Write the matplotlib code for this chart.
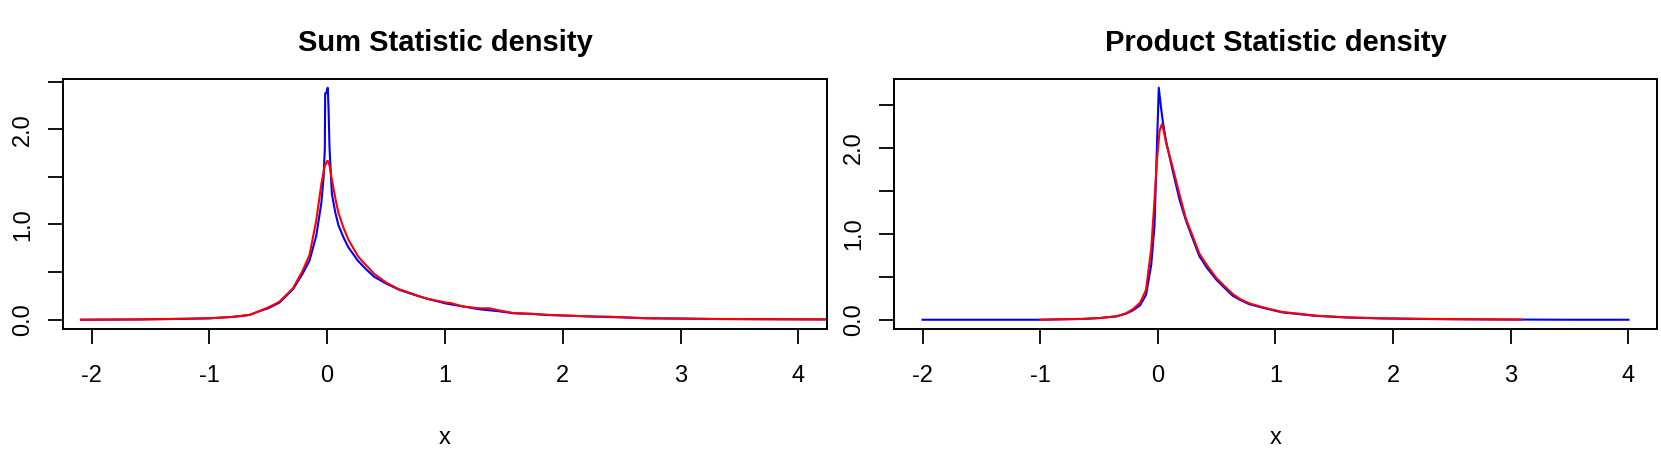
import matplotlib
matplotlib.use("Agg")
import matplotlib.pyplot as plt

plt.rcParams['font.family'] = ['Liberation Sans', 'DejaVu Sans']

# Sum Statistic density (left panel)
sum_blue_x = [-2.09, -1.6, -1.2, -1.0, -0.8, -0.66, -0.575, -0.5, -0.405, -0.29, -0.21, -0.15,
              -0.093, -0.05, -0.03, -0.02, -0.017, -0.008, 0.005, 0.012, 0.02, 0.04, 0.07, 0.096,
              0.14, 0.18, 0.26, 0.33, 0.4, 0.5, 0.61, 0.73, 0.85, 1.01, 1.15, 1.29, 1.45, 1.58,
              1.75, 1.86, 2.05, 2.28, 2.5, 2.71, 3.0, 3.28, 3.6, 4.0, 4.3]
sum_blue_y = [0.0, 0.003, 0.01, 0.015, 0.03, 0.05, 0.09, 0.12, 0.18, 0.32, 0.48, 0.62,
              0.88, 1.22, 1.5, 1.8, 2.375, 2.38, 2.435, 2.2, 1.8, 1.32, 1.12, 0.99,
              0.86, 0.76, 0.62, 0.53, 0.45, 0.38, 0.315, 0.265, 0.22, 0.17, 0.14, 0.11, 0.09, 0.068,
              0.06, 0.05, 0.042, 0.032, 0.025, 0.015, 0.012, 0.008, 0.006, 0.004, 0.003]
sum_red_x = [-2.09, -1.6, -1.2, -1.0, -0.8, -0.66, -0.575, -0.5, -0.45, -0.405, -0.29, -0.21,
             -0.15, -0.093, -0.05, -0.022, 0.0, 0.005, 0.02, 0.04, 0.07, 0.096, 0.14, 0.18,
             0.26, 0.3, 0.34, 0.4, 0.5, 0.61, 0.73, 0.77, 0.85, 1.01, 1.05, 1.15, 1.29, 1.38,
             1.45, 1.58, 1.75, 1.86, 2.05, 2.28, 2.4, 2.5, 2.71, 3.0, 3.28, 3.6, 4.0, 4.3]
sum_red_y = [0.0, 0.003, 0.01, 0.015, 0.03, 0.05, 0.09, 0.13, 0.16, 0.19, 0.33, 0.51,
             0.68, 1.04, 1.42, 1.61, 1.665, 1.668, 1.62, 1.47, 1.27, 1.12, 0.96, 0.84,
             0.67, 0.61, 0.56, 0.48, 0.39, 0.32, 0.27, 0.25, 0.22, 0.18, 0.175, 0.14, 0.12, 0.12,
             0.1, 0.07, 0.062, 0.052, 0.043, 0.033, 0.032, 0.026, 0.016, 0.012, 0.008, 0.006, 0.004, 0.003]

# Product Statistic density (right panel)
prod_blue_x = [-2.0, -1.0, -0.63, -0.49, -0.35, -0.27, -0.21, -0.15, -0.1, -0.056, -0.028, -0.008,
               0.008, 0.028, 0.042, 0.07, 0.127, 0.184, 0.24, 0.3, 0.353, 0.42, 0.495, 0.56,
               0.636, 0.7, 0.778, 0.919, 1.06, 1.2, 1.34, 1.62, 1.9, 2.19, 2.5, 2.9, 3.5, 4.0]
prod_blue_y = [0.0, 0.0, 0.01, 0.02, 0.04, 0.07, 0.11, 0.17, 0.29, 0.64, 1.1, 2.0,
               2.70, 2.46, 2.31, 2.08, 1.73, 1.4, 1.15, 0.93, 0.74, 0.6, 0.47, 0.38,
               0.28, 0.23, 0.18, 0.13, 0.085, 0.065, 0.045, 0.025, 0.015, 0.01, 0.006, 0.003, 0.0, 0.0]
prod_red_x = [-1.0, -0.63, -0.49, -0.35, -0.27, -0.21, -0.15, -0.1, -0.056, -0.028, -0.008, 0.015,
              0.034, 0.05, 0.07, 0.127, 0.184, 0.24, 0.3, 0.353, 0.42, 0.495, 0.56, 0.636,
              0.7, 0.778, 0.919, 1.06, 1.2, 1.34, 1.62, 1.9, 2.19, 2.5, 2.9, 3.09]
prod_red_y = [0.0, 0.01, 0.02, 0.04, 0.075, 0.125, 0.2, 0.35, 0.83, 1.4, 1.85, 2.2,
              2.276, 2.2, 2.06, 1.77, 1.46, 1.17, 0.96, 0.77, 0.63, 0.49, 0.4, 0.3,
              0.24, 0.19, 0.135, 0.09, 0.07, 0.048, 0.027, 0.017, 0.011, 0.007, 0.003, 0.002]

titles = ["Sum Statistic density", "Product Statistic density"]
x_ticks = [-2, -1, 0, 1, 2, 3, 4]
y_ticks = [0.0, 0.5, 1.0, 1.5, 2.0, 2.5]
y_ticklabels = ["0.0", "", "1.0", "", "2.0", ""]

fig = plt.figure(figsize=(16.61, 4.53), dpi=100)
ax1 = fig.add_axes([0.0381, 0.2737, 0.4596, 0.553])
ax2 = fig.add_axes([0.5384, 0.2737, 0.4590, 0.553])

panels = [
    (ax1, sum_blue_x, sum_blue_y, sum_red_x, sum_red_y, (-0.0974, 2.532)),
    (ax2, prod_blue_x, prod_blue_y, prod_red_x, prod_red_y, (-0.108, 2.808)),
]

for i, (ax, bx, by, rx, ry, ylim) in enumerate(panels):
    ax.plot(bx, by, color='#0000ff', lw=1.5)
    ax.plot(rx, ry, color='#ff0000', lw=1.5)
    ax.set_xlim(-2.24, 4.24)
    ax.set_ylim(*ylim)
    ax.set_xticks(x_ticks)
    ax.set_xticklabels([str(t) for t in x_ticks])
    ax.set_yticks(y_ticks)
    ax.set_yticklabels(y_ticklabels, rotation=90, va='center')
    ax.tick_params(axis='both', direction='out', length=11, width=1.3, labelsize=17, color='black')
    ax.tick_params(axis='x', pad=15)
    ax.tick_params(axis='y', pad=10)
    for s in ax.spines.values():
        s.set_linewidth(1.4)
    ax.set_title(titles[i], fontsize=21, fontweight='bold', pad=20)
    ax.set_xlabel('x', fontsize=17, labelpad=29)

fig.savefig('out.png', dpi=100)
